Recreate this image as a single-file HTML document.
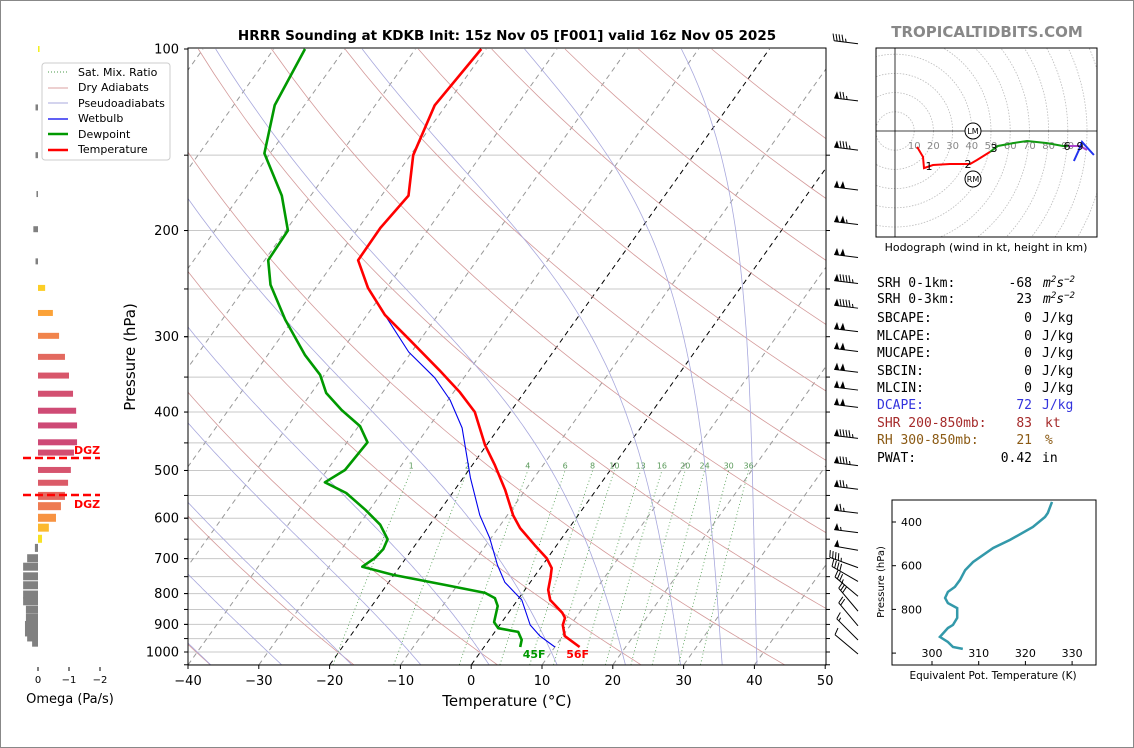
<!DOCTYPE html>
<html><head><meta charset="utf-8"><style>
html,body{margin:0;padding:0;background:#fff}
svg{display:block;font-family:"DejaVu Sans","Liberation Sans",sans-serif}
.mono{font-family:"DejaVu Sans Mono","Liberation Mono",monospace}
</style></head><body>
<svg id="c" width="1134" height="748" viewBox="0 0 1134 748" xmlns="http://www.w3.org/2000/svg">
<rect x="0.5" y="0.5" width="1133" height="747" fill="#fff" stroke="#888"/>
<defs><clipPath id="mainclip"><rect x="188" y="48" width="638" height="617"/></clipPath>
<clipPath id="hodoclip"><rect x="876" y="48" width="221" height="189"/></clipPath></defs>
<text x="507" y="40" text-anchor="middle" font-size="13.5" font-weight="bold">HRRR Sounding at KDKB Init: 15z Nov 05 [F001] valid 16z Nov 05 2025</text>
<text x="987" y="37" text-anchor="middle" font-size="15" font-weight="bold" fill="#888">TROPICALTIDBITS.COM</text>
<g id="bg" clip-path="url(#mainclip)"></g>
<g id="prof" clip-path="url(#mainclip)"></g>
<g id="axes"></g>
<g id="barbs"></g>
<g id="omega"></g>
<g id="hodo"></g>
<g id="thetae"></g>
<g>
<rect x="42" y="63" width="128" height="97" rx="3" fill="#fff" fill-opacity="0.85" stroke="#ccc"/>
<line x1="48" y1="72" x2="68" y2="72" stroke="#4a9a4a" stroke-dasharray="1,2"/><text x="78" y="76" font-size="11">Sat. Mix. Ratio</text>
<line x1="48" y1="88" x2="68" y2="88" stroke="#dba0a0"/><text x="78" y="91" font-size="11">Dry Adiabats</text>
<line x1="48" y1="103" x2="68" y2="103" stroke="#aaaadd"/><text x="78" y="107" font-size="11">Pseudoadiabats</text>
<line x1="48" y1="119" x2="68" y2="119" stroke="#0000ee" stroke-width="1.3"/><text x="78" y="122" font-size="11">Wetbulb</text>
<line x1="48" y1="134" x2="68" y2="134" stroke="#009900" stroke-width="2.6"/><text x="78" y="138" font-size="11">Dewpoint</text>
<line x1="48" y1="150" x2="68" y2="150" stroke="#ff0000" stroke-width="2.6"/><text x="78" y="153" font-size="11">Temperature</text>
</g>
<g class="mono" font-size="13">
<text x="877" y="287">SRH 0-1km:</text><text x="1032" y="287" text-anchor="end">-68</text><text x="1043" y="287" font-style="italic">m<tspan font-size="9" dy="-5">2</tspan><tspan dy="5">s</tspan><tspan font-size="9" dy="-5">−2</tspan></text>
<text x="877" y="303">SRH 0-3km:</text><text x="1032" y="303" text-anchor="end">23</text><text x="1043" y="303" font-style="italic">m<tspan font-size="9" dy="-5">2</tspan><tspan dy="5">s</tspan><tspan font-size="9" dy="-5">−2</tspan></text>
<text x="877" y="322">SBCAPE:</text><text x="1032" y="322" text-anchor="end">0</text><text x="1042" y="322">J/kg</text>
<text x="877" y="340">MLCAPE:</text><text x="1032" y="340" text-anchor="end">0</text><text x="1042" y="340">J/kg</text>
<text x="877" y="357">MUCAPE:</text><text x="1032" y="357" text-anchor="end">0</text><text x="1042" y="357">J/kg</text>
<text x="877" y="375">SBCIN:</text><text x="1032" y="375" text-anchor="end">0</text><text x="1042" y="375">J/kg</text>
<text x="877" y="392">MLCIN:</text><text x="1032" y="392" text-anchor="end">0</text><text x="1042" y="392">J/kg</text>
<g fill="#3333dd"><text x="877" y="409">DCAPE:</text><text x="1032" y="409" text-anchor="end">72</text><text x="1042" y="409">J/kg</text></g>
<g fill="#a52a2a"><text x="877" y="427">SHR 200-850mb:</text><text x="1032" y="427" text-anchor="end">83</text><text x="1045" y="427">kt</text></g>
<g fill="#8b5a14"><text x="877" y="444">RH 300-850mb:</text><text x="1032" y="444" text-anchor="end">21</text><text x="1045" y="444">%</text></g>
<text x="877" y="462">PWAT:</text><text x="1032" y="462" text-anchor="end">0.42</text><text x="1042" y="462">in</text>
</g>
</svg>
<script>
// ---- Sounding data ----
const tempP = [981,941,902,878,861,820,789,753,726,699,665,623,593,538,490,454,400,371,341,304,276,249,224,198,175,150,124,100];
const tempC = [13.5,10.3,8.9,8.5,7.6,4.6,3.3,2.4,1.6,-0.1,-3.1,-6.9,-9.2,-12.9,-16.8,-20.2,-25,-29.1,-34.2,-41.4,-47.5,-52.6,-56.8,-56.9,-56.2,-59.6,-61.6,-60.7];
const dewP = [981,955,926,913,892,839,814,798,774,745,722,699,675,650,615,581,545,523,499,449,422,397,372,347,322,281,246,224,200,175,149,124,100];
const dewC = [5.1,4.6,3.3,0.1,-1.1,-2.2,-3.4,-5.3,-11.8,-20.1,-25.3,-24.4,-24.1,-24.5,-27,-30.6,-35,-39.1,-37.5,-37.1,-39.8,-44,-47.9,-50.6,-54.7,-61.1,-66.7,-69.5,-69.7,-74.1,-80.8,-84.2,-85.6];
const wbP = [981,941,902,820,766,717,647,593,514,425,382,351,318,276];
const wbC = [10,6.8,4.3,0.6,-3.6,-6.4,-10.2,-13.9,-19,-25.2,-29.7,-34.1,-40.4,-47.5];
const pTicks = [100,200,300,400,500,600,700,800,900,1000];
const tTicks = [-40,-30,-20,-10,0,10,20,30,40,50];
const mixRatios = [1,2,4,6,8,10,13,16,20,24,30,36];
const dryThetas = [213,233,253,273,293,313,333,353,373,393,413,433,453,473];
const moistStarts = [-60,-50,-40,-30,-20,-10,0,10,20,28,34,39];
// wind barbs
const barbP = [98,121,146,170,194,220,243,267,292,315,341,365,390,439,487,533,584,629,673,719,758,802,849,898,948,1000];
const barbSpd = [45,75,85,100,105,100,95,95,100,100,100,100,100,95,85,75,65,55,50,45,40,35,30,20,15,10];
const barbDir = [277,277,277,277,277,277,277,277,277,277,277,277,277,277,277,277,277,277,280,290,300,310,320,320,315,310];
// omega
const omegaP = [100,125,150,174,199,225,249,274,299,324,348,373,398,421,449,467,499,524,551,573,599,622,649,672,699,722,749,775,803,824,851,878,902,928,946,965];
const omegaV = [-0.05,0.08,0.08,0.05,0.15,0.08,-0.23,-0.48,-0.68,-0.87,-1.0,-1.13,-1.23,-1.26,-1.26,-1.16,-1.06,-0.97,-0.87,-0.74,-0.58,-0.35,-0.13,0.1,0.35,0.48,0.48,0.48,0.48,0.48,0.39,0.39,0.42,0.42,0.35,0.19];
const omegaTicks = [0,-1,-2];
// hodograph (kt)
const hodoRedU = [11.5,14.6,15.1,19.8,28.6,39.1,42.7,49.5];
const hodoRedV = [-8.3,-13.5,-19.3,-17.7,-17.2,-17.2,-15.1,-10.9];
const hodoGreenU = [49.5,53.6,61.5,68.8,79.2,87.5,90.1];
const hodoGreenV = [-10.9,-7.8,-6.3,-5.2,-6.3,-7.8,-7.8];
const hodoMagU = [90.1,92.7,96.4,100];
const hodoMagV = [-7.8,-7.8,-7.8,-9.9];
const hodoBlueU = [93.2,95.8,97.4,103.6];
const hodoBlueV = [-15.6,-9.9,-5.7,-12.5];
const hodoRings = [10,20,30,40,50,60,70,80,90,100,110];
// theta-e
const thetaeP = [308,359,377,423,482,519,583,620,665,697,720,748,771,794,839,871,885,926,949,972,981];
const thetaeK = [325.7,324.8,324.2,321.6,316.7,313.1,308.8,307.1,306.0,304.9,303.4,302.8,303.4,305.4,305.4,304.5,303.4,301.7,303.4,304.5,306.6];
const thetaeXTicks = [300,310,320,330];
const thetaeYTicks = [400,600,800];

const NS='http://www.w3.org/2000/svg';
function mk(parent,tag,attrs,txt){const e=document.createElementNS(NS,tag);for(const k in attrs)e.setAttribute(k,attrs[k]);if(txt!==undefined)e.textContent=txt;parent.appendChild(e);return e;}
const yP = p => 49 + (Math.log10(p)-2)*603;
const xT = (T,p) => 188 + (T+40)*7.08 + (665 - yP(p))*0.714;
const path = pts => pts.map((q,i)=>(i?'L':'M')+q[0].toFixed(1)+','+q[1].toFixed(1)).join('');
const es = T => 6.112*Math.exp(17.67*T/(T+243.5));

const bg=document.getElementById('bg');
for(let p=150;p<=1050;p+=50){const l=mk(bg,'line',{x1:188,x2:826,y1:yP(p),y2:yP(p),stroke:'#c8c8c8','stroke-width':1});

}
for(let T=-130;T<=50;T+=10){const l=mk(bg,'line',{x1:xT(T,1050),y1:yP(1050),x2:xT(T,100),y2:yP(100),stroke:(T==0||T==-20)?'#000':'#999','stroke-width':1,'stroke-dasharray':'5,4'});

}
dryThetas.forEach(th=>{const pts=[];for(let p=1050;p>=100;p-=10){pts.push([xT(th*Math.pow(p/1000,0.2857)-273.15,p),yP(p)]);}
const e=mk(bg,'path',{d:path(pts),fill:'none',stroke:'#d49a9a','stroke-width':0.8});

});
function moistDT(T,p){const Tk=T+273.15;const e=es(T);const rs=0.622*e/(p-e);const Rd=287,Lv=2.5e6,Cp=1005;
return (Rd*Tk+Lv*rs)/(Cp+Lv*Lv*rs*0.622/(Rd*Tk*Tk))/p;}
moistStarts.forEach(t0=>{let T=t0,pts=[];
let Td=t0;for(let p=1000;p<1050;p+=5){Td+=moistDT(Td,p)*5;}
pts.push([xT(Td,1050),yP(1050)]);
for(let p=1000;p>=100;p-=5){pts.push([xT(T,p),yP(p)]);T-=moistDT(T,p)*5;}
const e=mk(bg,'path',{d:path(pts),fill:'none',stroke:'#a8a8dd','stroke-width':0.8});

});
mixRatios.forEach(w=>{const pts=[];let top;for(let p=1050;p>=500;p-=10){const wk=w/1000;const e=wk*p/(0.622+wk);const L=Math.log(e/6.112);const Td=243.5*L/(17.67-L)-3;pts.push([xT(Td,p),yP(p)]);top=[xT(Td,p),yP(p)];}
const e=mk(bg,'path',{d:path(pts),fill:'none',stroke:'#4a9a4a','stroke-width':0.8,'stroke-dasharray':'1,2.5'});


const t=mk(bg,'text',{x:top[0],y:top[1]-2,'text-anchor':'middle','font-size':8,fill:'#5a9a5a'},String(w));

});

const prof=document.getElementById('prof');
function profile(P,T,col,w,name){const e=mk(prof,'path',{d:path(P.map((p,i)=>[xT(T[i],p),yP(p)])),fill:'none',stroke:col,'stroke-width':w,'stroke-linejoin':'round'});

}
profile(wbP,wbC,'#0000ee',1.1,'wetbulb-line');
profile(dewP,dewC,'#009900',2.6,'dewpoint-line');
profile(tempP,tempC,'#ff0000',2.6,'temperature-line');
{const t=mk(prof,'text',{x:xT(dewC[0],dewP[0])+14,y:658,'text-anchor':'middle','font-size':11,'font-weight':'bold',fill:'#009900'},'45F');


const t2=mk(prof,'text',{x:xT(tempC[0],tempP[0])-2,y:658,'text-anchor':'middle','font-size':11,'font-weight':'bold',fill:'#ff0000'},'56F');

}

const ax=document.getElementById('axes');
mk(ax,'rect',{x:188,y:48,width:638,height:617,fill:'none',stroke:'#000','stroke-width':1});
for(let p=150;p<=1050;p+=50){mk(ax,'line',{x1:184,x2:188,y1:yP(p),y2:yP(p),stroke:'#000'});mk(ax,'line',{x1:826,x2:830,y1:yP(p),y2:yP(p),stroke:'#000'});}
pTicks.forEach(p=>{mk(ax,'line',{x1:184,x2:188,y1:yP(p),y2:yP(p),stroke:'#000'});
const t=mk(ax,'text',{x:179,y:yP(p)+4.5,'text-anchor':'end','font-size':13},String(p));

});
tTicks.forEach(T=>{const x=188+(T+40)*7.08;mk(ax,'line',{x1:x,x2:x,y1:665,y2:669,stroke:'#000'});
const t=mk(ax,'text',{x:x,y:685,'text-anchor':'middle','font-size':13},String(T).replace('-','−'));

});
{const t=mk(ax,'text',{x:507,y:706,'text-anchor':'middle','font-size':15},'Temperature (°C)');


const t2=mk(ax,'text',{x:135,y:357,'text-anchor':'middle','font-size':15,transform:'rotate(-90 135 357)'},'Pressure (hPa)');

}

const bb=document.getElementById('barbs');
barbP.forEach((p,i)=>{const sx=858,sy=yP(p)+(i==0?0:2);const d=barbDir[i]*Math.PI/180;
const s=[Math.sin(d),-Math.cos(d)],n=[-s[1],s[0]];const L=(i>=19)?30:24;
const g=mk(bb,'g',{});


mk(g,'line',{x1:sx,y1:sy,x2:sx+s[0]*L,y2:sy+s[1]*L,stroke:'#000','stroke-width':1});
let spd=Math.round(barbSpd[i]/5)*5,pos=L;
const P=(a,b)=>[sx+s[0]*a+n[0]*b,sy+s[1]*a+n[1]*b];
while(spd>=50){const a=P(pos,0),b=P(pos-2,7),c=P(pos-5,0);mk(g,'polygon',{points:[a,b,c].map(q=>q.join(',')).join(' '),fill:'#000'});pos-=6;spd-=50;}
if(pos<L)pos-=1;
while(spd>=10){const a=P(pos,0),b=P(pos+2,7);mk(g,'line',{x1:a[0],y1:a[1],x2:b[0],y2:b[1],stroke:'#000','stroke-width':1});pos-=3;spd-=10;}
if(spd>=5){const a=P(pos,0),b=P(pos+1,3.5);mk(g,'line',{x1:a[0],y1:a[1],x2:b[0],y2:b[1],stroke:'#000','stroke-width':1});}
});

const om=document.getElementById('omega');
const stops=[[0,[240,249,33]],[0.25,[253,202,38]],[0.5,[251,159,58]],[0.75,[237,121,83]],[1.0,[216,87,107]],[1.3,[204,71,120]]];
function ocol(v){if(v>=0)return '#808080';const m=Math.min(-v,1.3);for(let k=1;k<stops.length;k++){if(m<=stops[k][0]){const f=(m-stops[k-1][0])/(stops[k][0]-stops[k-1][0]);const c=stops[k-1][1].map((a,j)=>Math.round(a+(stops[k][1][j]-a)*f));return 'rgb('+c.join(',')+')';}}return 'rgb(204,71,120)';}
const oX=v=>38-v*31;
omegaP.forEach((p,i)=>{const v=omegaV[i];const x1=Math.min(38,oX(v)),x2=Math.max(38,oX(v));const h=p>540?8:6;
const r=mk(om,'rect',{x:x1,y:yP(p)-h/2,width:Math.max(x2-x1,1.5),height:h,fill:ocol(v)});

});
[458,495].forEach((y,k)=>{mk(om,'line',{x1:23,x2:100,y1:y,y2:y,stroke:'#ff0000','stroke-width':2.5,'stroke-dasharray':'8,4'});
const t=mk(om,'text',{x:74,y:k?508:454,'font-size':11,'font-weight':'bold',fill:'#ff0000'},'DGZ');

});
omegaTicks.forEach(v=>{mk(om,'line',{x1:oX(v),x2:oX(v),y1:667,y2:671,stroke:'#000'});
const t=mk(om,'text',{x:oX(v),y:683,'text-anchor':'middle','font-size':10},String(v).replace('-','−'));

});
{const t=mk(om,'text',{x:70,y:703,'text-anchor':'middle','font-size':13},'Omega (Pa/s)');

}

const ho=document.getElementById('hodo');
const hx=u=>895+u*1.92, hy=v=>131-v*1.92;
const hc=mk(ho,'g',{'clip-path':'url(#hodoclip)'});
hodoRings.forEach(r=>{mk(hc,'circle',{cx:895,cy:131,r:r*1.92,fill:'none',stroke:'#bbb','stroke-width':0.8,'stroke-dasharray':'1.5,1.5'});});
mk(hc,'line',{x1:876,x2:1097,y1:131,y2:131,stroke:'#000','stroke-width':0.8});
mk(hc,'line',{x1:895,x2:895,y1:48,y2:237,stroke:'#000','stroke-width':0.8});
hodoRings.slice(0,9).forEach(r=>{const t=mk(hc,'text',{x:hx(r),y:149,'text-anchor':'middle','font-size':10,fill:'#888'},String(r));

});
function hline(U,V,col,name){const e=mk(hc,'path',{d:path(U.map((u,i)=>[hx(u),hy(V[i])])),fill:'none',stroke:col,'stroke-width':2});

}
hline(hodoRedU,hodoRedV,'#ff0000','hodograph-0-3km');
hline(hodoGreenU,hodoGreenV,'#119911','hodograph-3-6km');
hline(hodoMagU,hodoMagV,'#aa44cc','hodograph-6-9km');
hline(hodoBlueU,hodoBlueV,'#2233ee','hodograph-9km-plus');
[['1',929,170],['2',968,168],['3',994,152],['6',1067,150],['9',1080,150]].forEach(a=>{mk(hc,'text',{x:a[1],y:a[2],'text-anchor':'middle','font-size':11},a[0]);});
[['LM',131],['RM',179]].forEach(a=>{mk(hc,'circle',{cx:973,cy:a[1],r:8,fill:'#fff',stroke:'#000'});mk(hc,'text',{x:973,y:a[1]+3,'text-anchor':'middle','font-size':8},a[0]);});
mk(ho,'rect',{x:876,y:48,width:221,height:189,fill:'none',stroke:'#000'});
{const t=mk(ho,'text',{x:986,y:251,'text-anchor':'middle','font-size':11},'Hodograph (wind in kt, height in km)');

}

const te=document.getElementById('thetae');
const tx=k=>932+(k-300)*4.67, ty=p=>522+(p-400)/200*43.7;
mk(te,'rect',{x:892,y:500,width:204,height:165,fill:'none',stroke:'#000'});
{const e=mk(te,'path',{d:path(thetaeP.map((p,i)=>[tx(thetaeK[i]),ty(p)])),fill:'none',stroke:'#3399aa','stroke-width':2.5});

}
thetaeXTicks.forEach(k=>{mk(te,'line',{x1:tx(k),x2:tx(k),y1:665,y2:661,stroke:'#000'});
const t=mk(te,'text',{x:tx(k),y:657,'text-anchor':'middle','font-size':11},String(k));

});
thetaeYTicks.concat([1000]).forEach(p=>{mk(te,'line',{x1:892,x2:896,y1:ty(p),y2:ty(p),stroke:'#000'});});
thetaeYTicks.forEach(p=>{const t=mk(te,'text',{x:922,y:ty(p)+4,'text-anchor':'end','font-size':11},String(p));

});
{const t=mk(te,'text',{x:884,y:582,'text-anchor':'middle','font-size':10,transform:'rotate(-90 884 582)'},'Pressure (hPa)');


const t2=mk(te,'text',{x:993,y:679,'text-anchor':'middle','font-size':10.5},'Equivalent Pot. Temperature (K)');

}
</script>
</body></html>
